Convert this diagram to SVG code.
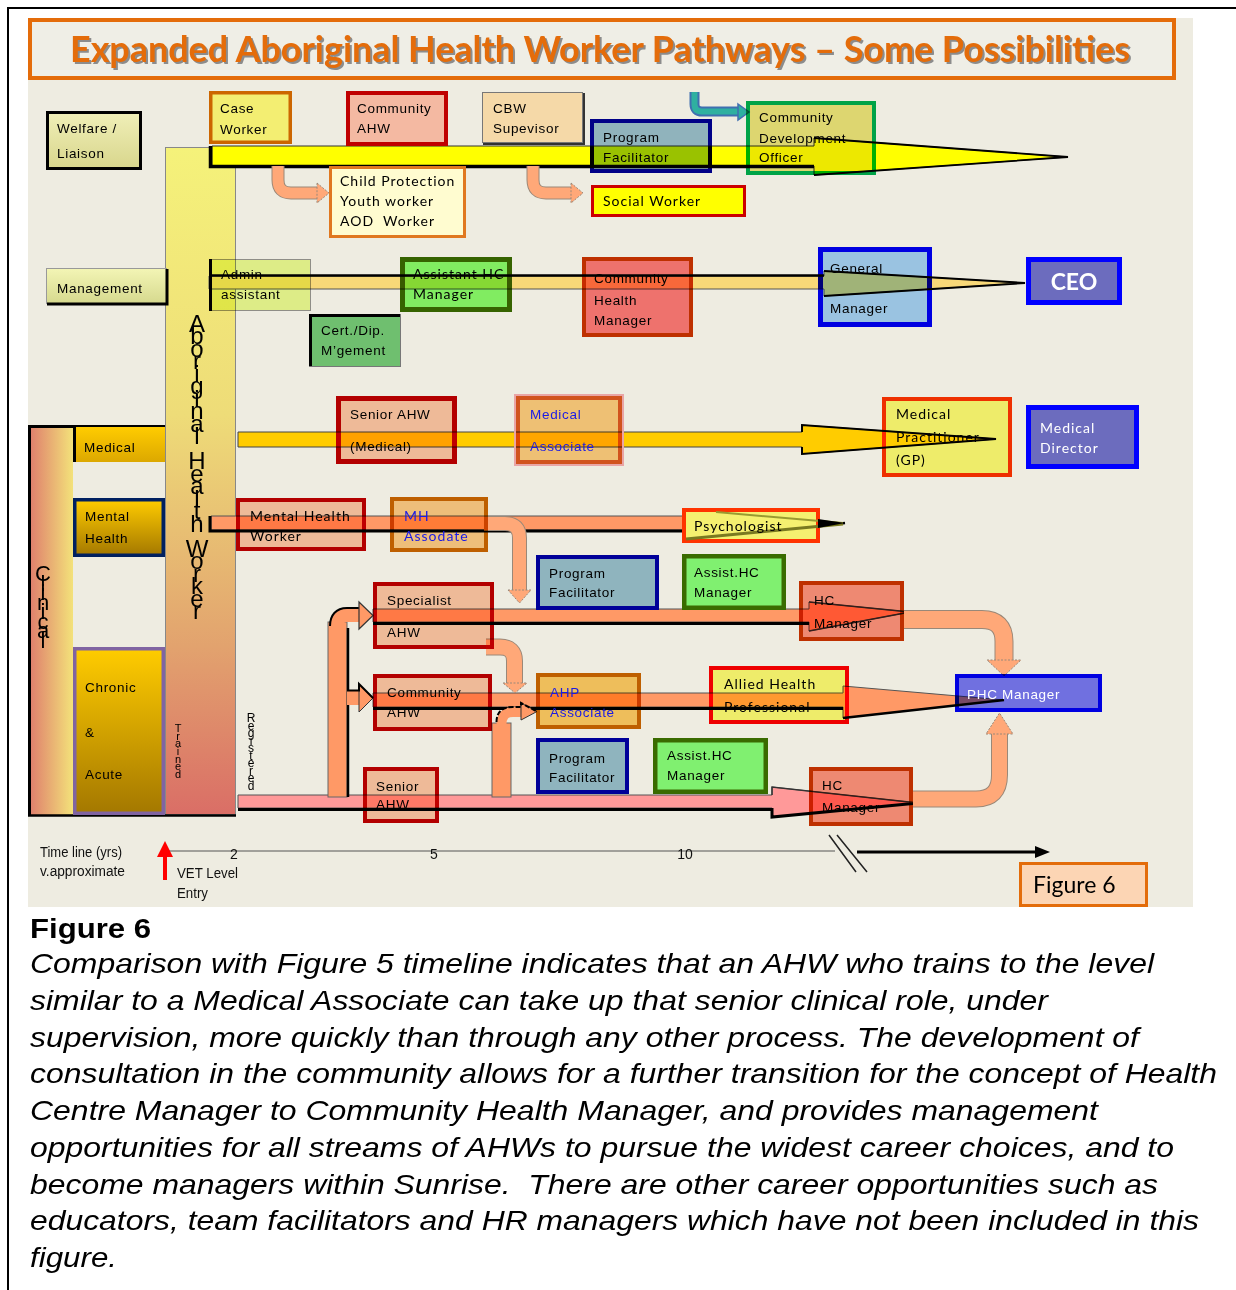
<svg xmlns="http://www.w3.org/2000/svg" width="1236" height="1290" viewBox="0 0 1236 1290">
<defs>
  <linearGradient id="gAhw" x1="0" y1="0" x2="0" y2="1">
    <stop offset="0" stop-color="#F5F27A"/>
    <stop offset="0.4" stop-color="#EEDC78"/>
    <stop offset="0.75" stop-color="#E2A26E"/>
    <stop offset="1" stop-color="#DA6E66"/>
  </linearGradient>
  <linearGradient id="gClin" x1="0" y1="0" x2="1" y2="0">
    <stop offset="0" stop-color="#DE7A6C"/>
    <stop offset="1" stop-color="#F3E27A"/>
  </linearGradient>
  <linearGradient id="gGold" x1="0" y1="0" x2="0" y2="1">
    <stop offset="0" stop-color="#FFCC00"/>
    <stop offset="1" stop-color="#A47800"/>
  </linearGradient>
  <linearGradient id="gGoldLight" x1="0" y1="0" x2="0" y2="1">
    <stop offset="0" stop-color="#FFCC00"/>
    <stop offset="1" stop-color="#DCA800"/>
  </linearGradient>
  <linearGradient id="gWelfare" x1="0" y1="0" x2="0" y2="1">
    <stop offset="0" stop-color="#F0EFB8"/>
    <stop offset="1" stop-color="#D8D68C"/>
  </linearGradient>
  <linearGradient id="gMgmt" x1="0" y1="0" x2="0" y2="1">
    <stop offset="0" stop-color="#F3F5B5"/>
    <stop offset="1" stop-color="#D6D98E"/>
  </linearGradient>
</defs>
<style>
  .mx{mix-blend-mode:multiply}
  .n{font-family:"Liberation Sans",Arial,sans-serif;font-size:13.5px;letter-spacing:0.7px;fill:#000}
  .k{font-family:Lato,"Open Sans",sans-serif;font-size:14px;letter-spacing:1px;fill:#000}
  .blue{fill:#1A1AE6}
  .wht{fill:#fff}
  .vt{font-family:"Liberation Sans",Arial,sans-serif;fill:#000;writing-mode:vertical-rl;text-orientation:upright}
  .cap{font-family:"Liberation Sans",Arial,sans-serif;font-size:28px;font-style:italic;fill:#000}
  .tl{font-family:"Liberation Sans",Arial,sans-serif;font-size:14px;fill:#111}
  .shaftO{fill:none;stroke:#9A8878;stroke-linejoin:round}
  .shaft{fill:none;stroke:#FFA878;stroke-linejoin:round}
  .head{fill:#FFA878;stroke:#9A8878;stroke-width:1;stroke-dasharray:2 1.5}
  .bar{fill:#FF9966;stroke:#555;stroke-width:1}
</style>

<!-- page frame and panel -->
<rect x="0" y="0" width="1236" height="1290" fill="#fff"/>
<path d="M8,1290 V8 H1236" fill="none" stroke="#000" stroke-width="2"/>
<rect x="28" y="18" width="1165" height="889" fill="#EEECE1"/>

<!-- title banner -->
<g id="title">
  <rect x="30" y="20" width="1144" height="58" fill="#EFEEE6" stroke="#E46C0A" stroke-width="4"/>
  <text x="72" y="64" textLength="1060" lengthAdjust="spacingAndGlyphs" font-family="Lato,'Liberation Sans',sans-serif" font-weight="bold" font-size="36" fill="#8C8C8C">Expanded Aboriginal Health Worker Pathways – Some Possibilities</text>
  <text x="70" y="62" textLength="1060" lengthAdjust="spacingAndGlyphs" font-family="Lato,'Liberation Sans',sans-serif" font-weight="bold" font-size="36" fill="#E46C0A">Expanded Aboriginal Health Worker Pathways – Some Possibilities</text>
</g>

<!-- vertical streams -->
<g id="ahw-column">
  <rect x="165.5" y="147.5" width="70" height="667" fill="url(#gAhw)" stroke="#888" stroke-width="1"/>
  <text class="vt" x="197" y="310" font-size="24" textLength="314" lengthAdjust="spacing">Aboriginal Health Worker</text>
  <text class="vt" x="178" y="722" font-size="11" textLength="58" lengthAdjust="spacing">Trained</text>
</g>

<g id="clinical-column">
  <rect x="28" y="425" width="45" height="390" fill="url(#gClin)"/>
  <path d="M29.5,816 V426.5 H165" fill="none" stroke="#000" stroke-width="3"/>
  <path d="M28,815.5 H236" fill="none" stroke="#000" stroke-width="2.5"/>
  <text class="vt" x="43" y="561" font-size="22" textLength="92" lengthAdjust="spacing">Clinical</text>
</g>

<g id="registered-label">
  <text class="vt" x="251" y="711" font-size="12" textLength="82" lengthAdjust="spacing">Registered</text>
</g>

<g id="n-medical-stream">
  <rect x="73" y="427" width="92" height="35" fill="url(#gGoldLight)"/>
  <path d="M74.5,427 V462" stroke="#000" stroke-width="3"/>
  <text class="n" x="84" y="452" font-size="15">Medical</text>
</g>
<g id="n-mental-stream">
  <rect x="74.75" y="499.75" width="88.5" height="55.5" fill="url(#gGold)" stroke="#002060" stroke-width="3.5"/>
  <text class="n" x="85" y="521">Mental</text>
  <text class="n" x="85" y="543">Health</text>
</g>
<g id="n-chronic-stream">
  <rect x="74.75" y="648.75" width="88.5" height="164.5" fill="url(#gGold)" stroke="#8064A2" stroke-width="3.5"/>
  <text class="n" x="85" y="692">Chronic</text>
  <text class="n" x="85" y="737">&amp;</text>
  <text class="n" x="85" y="779">Acute</text>
</g>

<!-- pathway bars and arrows -->
<g id="connectors">
  <!-- welfare stream -->
  <polygon points="212,146 814,146 814,138 1068,157 814,175 814,166 212,166" fill="#FFFF00" stroke="#333" stroke-width="1"/>
  <path d="M210.5,146 V166.5 H814" fill="none" stroke="#000" stroke-width="3.5"/>
  <path d="M814,138 L1068,157 L814,175" fill="none" stroke="#000" stroke-width="1.8"/>

  <!-- management stream -->
  <polygon points="209,276 824,276 824,271 1025,283 824,296 824,289 209,289" fill="#F8D878" stroke="#555" stroke-width="1"/>
  <path d="M209,275.5 H824" stroke="#000" stroke-width="2.5"/>
  <path d="M824,271 L1025,283 L824,296" fill="none" stroke="#000" stroke-width="2"/>

  <!-- medical stream -->
  <polygon points="238,432 802,432 802,425 996,439 802,454 802,447 238,447" fill="#FFCC00" stroke="#444" stroke-width="1"/>
  <path d="M802,432 V425 L996,439 L802,454 V447" fill="none" stroke="#000" stroke-width="2"/>

  <!-- mental health stream -->
  <polygon class="bar" points="211,516 690,516 690,509 845,523 690,541 690,530 211,530"/>
  <path d="M210,516 V531 H690" fill="none" stroke="#000" stroke-width="3"/>
  <path d="M690,541 L845,523" fill="none" stroke="#000" stroke-width="2.5"/>

  <!-- specialist stream -->
  <polygon class="bar" points="373,609 809,609 809,602 910,612 809,631 809,622 373,622"/>
  <path d="M373,623.5 H809" fill="none" stroke="#000" stroke-width="3"/>
  <path d="M809,602 L910,612 L809,631" fill="none" stroke="#333" stroke-width="1.5"/>

  <!-- community AHW stream -->
  <polygon class="bar" points="373,693 843,693 843,686 1004,700 843,718 843,707 373,707"/>
  <path d="M373,708.5 H843" fill="none" stroke="#000" stroke-width="3"/>
  <path d="M843,718 L1004,700" fill="none" stroke="#000" stroke-width="2.5"/>

  <!-- registered stream -->
  <polygon points="238,795 772,795 772,787 918,803 772,817 772,808 238,808" fill="#FF9999" stroke="#555" stroke-width="1"/>
  <path d="M238,809.5 H772 V817 L918,803" fill="none" stroke="#000" stroke-width="3"/>
  <path d="M772,795 V787 L918,803" fill="none" stroke="#333" stroke-width="1.5"/>

  <!-- feeders from the registered stream -->
  <rect x="328" y="622" width="19" height="175" fill="#FF9966" stroke="#666" stroke-width="1"/>
  <path d="M348,628 V797" stroke="#000" stroke-width="2.5"/>
  <path d="M335.5,626 Q335.5,613.5 347,613.5 H361" fill="none" stroke="#000" stroke-width="13"/>
  <path d="M337.5,626 Q337.5,615.5 347,615.5 H361" fill="none" stroke="#FF9966" stroke-width="13"/>
  <polygon points="359,602 373,615.5 359,629" fill="#FF9966" stroke="#333" stroke-width="1.2"/>
  <rect x="347" y="691" width="14" height="14" fill="#FF9966"/>
  <polygon points="359,684 373,698 359,712" fill="#FF9966" stroke="#333" stroke-width="1"/>
  <path d="M347,690.5 H359 V684 L373,698" fill="none" stroke="#000" stroke-width="2"/>

  <rect x="492" y="723" width="19" height="74" fill="#FF9966" stroke="#666" stroke-width="1"/>
  <path d="M501.5,724 Q501.5,712 513,712 H523" fill="none" stroke="#FF9966" stroke-width="10"/>
  <polygon points="521,703 537,711.5 521,720" fill="#FF9966" stroke="#333" stroke-width="1"/>
  <path d="M496.5,722 Q496.5,707 513,707 H521 V703 L537,711.5" fill="none" stroke="#000" stroke-width="2" stroke-dasharray="5 2"/>

  <!-- branch arrows -->
  <path class="shaftO" d="M278,166 V180 Q278,193 291,193 H318" stroke-width="13"/>
  <path class="shaft" d="M278,166 V180 Q278,193 291,193 H318" stroke-width="11"/>
  <polygon class="head" points="317,183 329,193 317,203"/>

  <path class="shaftO" d="M533,166 V180 Q533,193 546,193 H572" stroke-width="13"/>
  <path class="shaft" d="M533,166 V180 Q533,193 546,193 H572" stroke-width="11"/>
  <polygon class="head" points="571,183 583,193 571,203"/>

  <path d="M694.5,92 V104 Q694.5,111.5 702,111.5 H739" fill="none" stroke="#3F6FB0" stroke-width="10"/>
  <path d="M694.5,92 V104 Q694.5,111.5 702,111.5 H739" fill="none" stroke="#2FB0A0" stroke-width="6"/>
  <polygon points="738,104 749,112 738,120" fill="#2FB0A0" stroke="#3F6FB0" stroke-width="1.5"/>

  <path class="shaftO" d="M484,523.5 H505 Q519.5,523.5 519.5,538 V591" stroke-width="15"/>
  <path class="shaft" d="M484,523.5 H505 Q519.5,523.5 519.5,538 V591" stroke-width="13"/>
  <polygon class="head" points="508,590 531,590 519.5,603"/>

  <path class="shaftO" d="M486,647 H500 Q514.5,647 514.5,661 V684" stroke-width="17"/>
  <path class="shaft" d="M486,647 H500 Q514.5,647 514.5,661 V684" stroke-width="15"/>
  <polygon class="head" points="503,683 527,683 515,693"/>

  <path class="shaftO" d="M904,619.5 H982 Q1004,619.5 1004,641.5 V661" stroke-width="19"/>
  <path class="shaft" d="M904,619.5 H982 Q1004,619.5 1004,641.5 V661" stroke-width="17"/>
  <polygon class="head" points="987,660 1021,660 1004,676"/>

  <path class="shaftO" d="M913,799 H976 Q999.5,799 999.5,775 V733" stroke-width="17"/>
  <path class="shaft" d="M913,799 H976 Q999.5,799 999.5,775 V733" stroke-width="15"/>
  <polygon class="head" points="986,734 1013,734 999.5,713"/>
</g>

<!-- welfare stream nodes -->
<g id="n-welfare">
  <rect x="47.5" y="112.5" width="93" height="56" fill="url(#gWelfare)" stroke="#000" stroke-width="3"/>
  <text class="n" x="57" y="133" font-size="14.5">Welfare /</text>
  <text class="n" x="57" y="158" font-size="14.5">Liaison</text>
</g>
<g id="n-case-worker">
  <rect x="210.75" y="92.75" width="79.5" height="49.5" fill="#F3EE72" stroke="#CC6600" stroke-width="3.5"/>
  <text class="n" x="220" y="113">Case</text>
  <text class="n" x="220" y="134">Worker</text>
</g>
<g id="n-community-ahw-top">
  <rect x="348" y="93" width="98" height="51" fill="#F4B9A2" stroke="#C00000" stroke-width="4"/>
  <text class="n" x="357" y="113">Community</text>
  <text class="n" x="357" y="133">AHW</text>
</g>
<g id="n-cbw-supervisor">
  <rect x="482.5" y="92.5" width="100" height="50" fill="#F5D9A8" stroke="#777" stroke-width="1"/>
  <path d="M584,93 V144 H483" fill="none" stroke="#333" stroke-width="2"/>
  <text class="n" x="493" y="113">CBW</text>
  <text class="n" x="493" y="133">Supevisor</text>
</g>
<g id="n-program-facilitator-top">
  <rect class="mx" x="592" y="121" width="118" height="50" fill="#9AC2D5" stroke="#000099" stroke-width="4"/>
  <text class="n" x="603" y="142">Program</text>
  <text class="n" x="603" y="162">Facilitator</text>
</g>
<g id="n-community-development-officer">
  <rect class="mx" x="748" y="103" width="126" height="70" fill="#EDE87F" stroke="#00B050" stroke-width="4"/>
  <text class="n" x="759" y="122">Community</text>
  <text class="n" x="759" y="143">Development</text>
  <text class="n" x="759" y="162">Officer</text>
</g>
<g id="n-child-protection">
  <rect x="330.5" y="167.5" width="134" height="69" fill="#FFFCD0" stroke="#E07820" stroke-width="3"/>
  <text class="k" x="340" y="186" letter-spacing="0.3">Child Protection</text>
  <text class="k" x="340" y="206" letter-spacing="0.3">Youth worker</text>
  <text class="k" x="340" y="226" letter-spacing="0.3" xml:space="preserve">AOD  Worker</text>
</g>
<g id="n-social-worker">
  <rect x="592.5" y="186.5" width="152" height="29" fill="#FFFF00" stroke="#CC0000" stroke-width="3"/>
  <text class="k" x="603" y="206">Social Worker</text>
</g>

<!-- management stream nodes -->
<g id="n-management">
  <rect x="46.5" y="268.5" width="120" height="35" fill="url(#gMgmt)" stroke="#999" stroke-width="1"/>
  <path d="M167,269 V304 H47" fill="none" stroke="#000" stroke-width="3"/>
  <text class="n" x="57" y="293" font-size="14">Management</text>
</g>
<g id="n-admin-assistant">
  <rect class="mx" x="209.5" y="259.5" width="101" height="51" fill="#EDFF99" stroke="#999" stroke-width="1"/>
  <path d="M210.5,259 V311" stroke="#000" stroke-width="3"/>
  <text class="n" x="221" y="279">Admin</text>
  <text class="n" x="221" y="299">assistant</text>
</g>
<g id="n-assistant-hc-manager">
  <rect class="mx" x="402.5" y="259.5" width="107" height="50" fill="#8AFF6E" stroke="#3A6B00" stroke-width="5"/>
  <text class="k" x="413" y="279" letter-spacing="0.8">Assistant HC</text>
  <text class="k" x="413" y="299" letter-spacing="0.8">Manager</text>
</g>
<g id="n-cert-dip">
  <rect x="309.5" y="314.5" width="91" height="52" fill="#6FBF6F" stroke="#777" stroke-width="1"/>
  <path d="M310.5,366 V315.5 H400" fill="none" stroke="#000" stroke-width="3"/>
  <text class="n" x="321" y="335">Cert./Dip.</text>
  <text class="n" x="321" y="355">M’gement</text>
</g>
<g id="n-community-health-manager">
  <rect class="mx" x="584" y="259" width="107" height="76" fill="#FF7B7B" stroke="#CC3300" stroke-width="4"/>
  <text class="n" x="594" y="283">Community</text>
  <text class="n" x="594" y="305">Health</text>
  <text class="n" x="594" y="325">Manager</text>
</g>
<g id="n-general-manager">
  <rect class="mx" x="820.5" y="249.5" width="109" height="75" fill="#A5D3FF" stroke="#0000FF" stroke-width="5"/>
  <text class="n" x="830" y="273">General</text>
  <text class="n" x="830" y="313">Manager</text>
</g>
<g id="n-ceo">
  <rect x="1028.5" y="259.5" width="91" height="43" fill="#6C6CBE" stroke="#0000FF" stroke-width="5"/>
  <text x="1074" y="290" text-anchor="middle" font-family="Lato,'Open Sans',sans-serif" font-weight="bold" font-size="23" fill="#fff">CEO</text>
</g>

<!-- medical stream nodes -->
<g id="n-senior-ahw-medical">
  <rect class="mx" x="338.5" y="398.5" width="116" height="63" fill="#FFC9AC" stroke="#C00000" stroke-width="5"/>
  <text class="n" x="350" y="419">Senior AHW</text>
  <text class="n" x="350" y="451">(Medical)</text>
</g>
<g id="n-medical-associate">
  <rect x="515" y="395" width="108" height="70" fill="none" stroke="#E9A5A5" stroke-width="2"/>
  <rect class="mx" x="518" y="398" width="102" height="64" fill="#FFD083" stroke="#E05A20" stroke-width="4"/>
  <text class="n blue" x="530" y="419">Medical</text>
  <text class="n blue" x="530" y="451">Associate</text>
</g>
<g id="n-medical-practitioner">
  <rect class="mx" x="884" y="399" width="126" height="76" fill="#FFFF78" stroke="#FF3300" stroke-width="4"/>
  <text class="k" x="896" y="419">Medical</text>
  <text class="k" x="896" y="442">Practitioner</text>
  <text class="k" x="896" y="465">(GP)</text>
</g>
<g id="n-medical-director">
  <rect x="1028.5" y="407.5" width="108" height="59" fill="#6C6CBE" stroke="#0000FF" stroke-width="5"/>
  <text class="k wht" x="1040" y="433" font-size="15" letter-spacing="1.5">Medical</text>
  <text class="k wht" x="1040" y="453" font-size="15" letter-spacing="1.5">Director</text>
</g>

<!-- mental health stream nodes -->
<g id="n-mental-health-worker">
  <rect class="mx" x="238" y="500" width="126" height="49" fill="#FFC9AC" stroke="#C00000" stroke-width="4"/>
  <text class="k" x="250" y="521" letter-spacing="0.3">Mental Health</text>
  <text class="k" x="250" y="541" letter-spacing="0.3">Worker</text>
</g>
<g id="n-mh-associate">
  <rect class="mx" x="392" y="499" width="94" height="51" fill="#FFCE8A" stroke="#CC6600" stroke-width="4"/>
  <text class="k blue" x="404" y="521">MH</text>
  <text class="k blue" x="404" y="541" letter-spacing="0.3">Assodate</text>
</g>
<g id="n-psychologist">
  <rect x="684" y="510" width="134" height="31" fill="#F5F070" stroke="#FF3300" stroke-width="4"/>
  <path d="M716,512 L843,523" stroke="#9A9A30" stroke-width="2"/>
  <path d="M686,539 L843,524" stroke="#7A7A20" stroke-width="3"/>
  <polygon points="818,519 845,523 818,528" fill="#000"/>
  <text class="k" x="694" y="531">Psychologist</text>
</g>

<!-- specialist and community streams -->
<g id="n-program-facilitator-mid">
  <rect x="538" y="557" width="119" height="51" fill="#8FB4BE" stroke="#000099" stroke-width="4"/>
  <text class="n" x="549" y="578">Program</text>
  <text class="n" x="549" y="597">Facilitator</text>
</g>
<g id="n-assist-hc-manager-mid">
  <rect x="684.25" y="556.25" width="99.5" height="51.5" fill="#80F070" stroke="#3A6B00" stroke-width="4.5"/>
  <text class="n" x="694" y="577">Assist.HC</text>
  <text class="n" x="694" y="597">Manager</text>
</g>
<g id="n-hc-manager-upper">
  <rect class="mx" x="801" y="583" width="101" height="56" fill="#FF9481" stroke="#CC3300" stroke-width="4"/>
  <text class="n" x="814" y="605">HC</text>
  <text class="n" x="814" y="628">Manager</text>
</g>
<g id="n-specialist-ahw">
  <rect class="mx" x="375" y="584" width="117" height="63" fill="#FFC9AC" stroke="#C00000" stroke-width="4"/>
  <text class="n" x="387" y="605">Specialist</text>
  <text class="n" x="387" y="637">AHW</text>
</g>
<g id="n-community-ahw-lower">
  <rect class="mx" x="375" y="676" width="115" height="53" fill="#FFC9AC" stroke="#C00000" stroke-width="4"/>
  <text class="n" x="387" y="697">Community</text>
  <text class="n" x="387" y="717">AHW</text>
</g>
<g id="n-ahp-associate">
  <rect class="mx" x="538" y="675" width="101" height="52" fill="#FFCE67" stroke="#CC6600" stroke-width="4"/>
  <text class="n blue" x="550" y="697">AHP</text>
  <text class="n blue" x="550" y="717">Associate</text>
</g>
<g id="n-allied-health">
  <rect class="mx" x="711" y="668" width="136" height="54" fill="#FFFF78" stroke="#FF0000" stroke-width="4"/>
  <text class="k" x="724" y="689">Allied Health</text>
  <text class="k" x="724" y="712">Professional</text>
</g>
<g id="n-phc-manager">
  <rect class="mx" x="957" y="676" width="143" height="34" fill="#7879FE" stroke="#0000FF" stroke-width="4"/>
  <text class="n wht" x="967" y="699" font-size="14" letter-spacing="1.4">PHC Manager</text>
</g>
<g id="n-program-facilitator-low">
  <rect x="538" y="740" width="89" height="52" fill="#8FB4BE" stroke="#000099" stroke-width="4"/>
  <text class="n" x="549" y="763">Program</text>
  <text class="n" x="549" y="782">Facilitator</text>
</g>
<g id="n-assist-hc-manager-low">
  <rect x="655.25" y="740.25" width="110.5" height="51.5" fill="#80F070" stroke="#3A6B00" stroke-width="4.5"/>
  <text class="n" x="667" y="760">Assist.HC</text>
  <text class="n" x="667" y="780">Manager</text>
</g>
<g id="n-hc-manager-lower">
  <rect class="mx" x="811" y="769" width="100" height="55" fill="#FF9481" stroke="#CC3300" stroke-width="4"/>
  <text class="n" x="822" y="790">HC</text>
  <text class="n" x="822" y="812">Manager</text>
</g>
<g id="n-senior-ahw-lower">
  <rect class="mx" x="365" y="769" width="72" height="52" fill="#FFC9AC" stroke="#C00000" stroke-width="4"/>
  <text class="n" x="376" y="791">Senior</text>
  <text class="n" x="376" y="809">AHW</text>
</g>

<!-- timeline -->
<g id="timeline">
  <path d="M165,851 H835" stroke="#555" stroke-width="1"/>
  <path d="M165,880 V855" stroke="#FF0000" stroke-width="4"/>
  <polygon points="157,857 173,857 165,841" fill="#FF0000"/>
  <path d="M829,835 L856,872 M837,835 L867,872" stroke="#222" stroke-width="1.5"/>
  <path d="M857,852 H1037" stroke="#000" stroke-width="3"/>
  <polygon points="1035,846 1050,852 1035,858" fill="#000"/>
  <text class="tl" x="234" y="859" font-size="16" text-anchor="middle">2</text>
  <text class="tl" x="434" y="859" font-size="16" text-anchor="middle">5</text>
  <text class="tl" x="685" y="859" font-size="16" text-anchor="middle">10</text>
  <text class="tl" x="40" y="857" textLength="82" lengthAdjust="spacingAndGlyphs">Time line (yrs)</text>
  <text class="tl" x="40" y="876" textLength="85" lengthAdjust="spacingAndGlyphs">v.approximate</text>
  <text class="tl" x="177" y="878" textLength="61" lengthAdjust="spacingAndGlyphs">VET Level</text>
  <text class="tl" x="177" y="898" textLength="31" lengthAdjust="spacingAndGlyphs">Entry</text>
</g>

<g id="n-figure-label">
  <rect x="1020.5" y="863.5" width="126" height="42" fill="#FCD5B4" stroke="#E36C0A" stroke-width="3"/>
  <text x="1033" y="893" font-family="Lato,'Open Sans',sans-serif" font-size="23" fill="#000">Figure 6</text>
</g>

<!-- caption -->
<g id="caption">
  <text x="30" y="938" font-family="'Liberation Sans',Arial,sans-serif" font-weight="bold" font-size="27" textLength="121" lengthAdjust="spacingAndGlyphs">Figure 6</text>
  <text class="cap" x="30" y="973" textLength="1124" lengthAdjust="spacingAndGlyphs">Comparison with Figure 5 timeline indicates that an AHW who trains to the level</text>
  <text class="cap" x="30" y="1010" textLength="1018" lengthAdjust="spacingAndGlyphs">similar to a Medical Associate can take up that senior clinical role, under</text>
  <text class="cap" x="30" y="1047" textLength="1109" lengthAdjust="spacingAndGlyphs">supervision, more quickly than through any other process. The development of</text>
  <text class="cap" x="30" y="1083" textLength="1187" lengthAdjust="spacingAndGlyphs">consultation in the community allows for a further transition for the concept of Health</text>
  <text class="cap" x="30" y="1120" textLength="1068" lengthAdjust="spacingAndGlyphs">Centre Manager to Community Health Manager, and provides management</text>
  <text class="cap" x="30" y="1157" textLength="1144" lengthAdjust="spacingAndGlyphs">opportunities for all streams of AHWs to pursue the widest career choices, and to</text>
  <text class="cap" x="30" y="1194" textLength="1128" lengthAdjust="spacingAndGlyphs" xml:space="preserve">become managers within Sunrise.  There are other career opportunities such as</text>
  <text class="cap" x="30" y="1230" textLength="1169" lengthAdjust="spacingAndGlyphs">educators, team facilitators and HR managers which have not been included in this</text>
  <text class="cap" x="30" y="1267" textLength="87" lengthAdjust="spacingAndGlyphs">figure.</text>
</g>
</svg>
